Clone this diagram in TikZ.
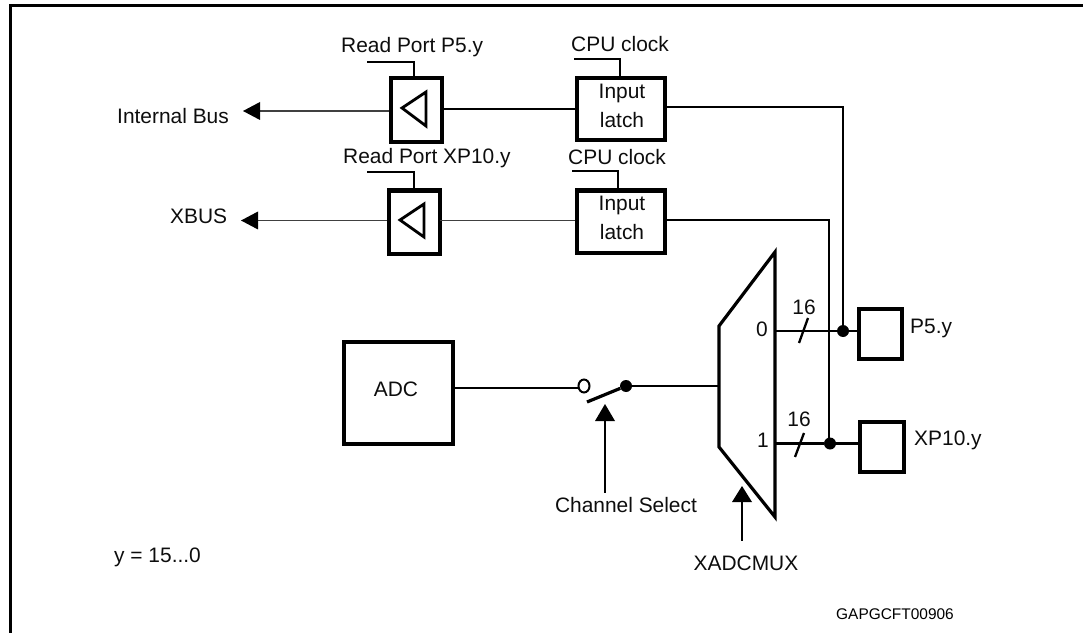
\documentclass[tikz,border=0pt]{standalone}
\usepackage{fontspec}
\usetikzlibrary{shapes.geometric}
\setmainfont{Liberation Sans}
\begin{document}
\begin{tikzpicture}[x=1bp,y=-1bp,
  lbl/.style={inner sep=0pt,font=\fontsize{21}{24}\selectfont,text=black!95},
  small/.style={inner sep=0pt,font=\fontsize{15.5}{18}\selectfont},
  thickbox/.style={draw,line width=4.2bp,inner sep=0pt,fill=white},
  wire/.style={line width=2.3bp},
  thin wire/.style={line width=1.6bp,draw=black!75},
  tipfill/.style={fill=black,draw=none},
  dotn/.style={circle,fill=black,inner sep=0pt,minimum size=12bp}]
\useasboundingbox (0,0) rectangle (1084,633);
% clipped title and frame
\fill[black!80] (36,0) arc[start angle=180,end angle=360,x radius=5,y radius=1.5] -- cycle;
\fill[black!80] (282,0) arc[start angle=180,end angle=360,x radius=5,y radius=1.5] -- cycle;
\draw[line width=2.4bp] (10.5,633) -- (10.5,5.5) -- (1083,5.5);
% boxes
\node[thickbox,minimum width=51bp,minimum height=64bp,anchor=north west] (buf1) at (389,76) {};
\node[thickbox,minimum width=51bp,minimum height=63bp,anchor=north west] (buf2) at (387,188.5) {};
\node[thickbox,minimum width=88bp,minimum height=62bp,anchor=north west] (lat1) at (574.5,76) {};
\node[thickbox,minimum width=88bp,minimum height=62bp,anchor=north west] (lat2) at (574.5,188.5) {};
\node[thickbox,minimum width=109bp,minimum height=102bp,anchor=north west] (adc) at (341.5,339.5) {};
\node[thickbox,minimum width=43bp,minimum height=50bp,anchor=north west] (p5) at (856.5,306.5) {};
\node[thickbox,minimum width=44bp,minimum height=50bp,anchor=north west] (xp) at (857.5,419.5) {};
% triangles
\draw[line width=2.8bp,line join=miter] (402,108) -- (426,92) -- (426,126) -- cycle;
\draw[line width=2.8bp,line join=miter] (400,220) -- (424,204) -- (424,237) -- cycle;
% mux
\draw[line width=3.2bp,fill=white,line join=miter] (719,326) -- (775,252) -- (775,517) -- (719,447) -- cycle;
% named helpers
\coordinate (bus1) at (243,111);
\coordinate (bus2) at (241,220.5);
\coordinate (rp1) at (367,62);
\coordinate (rp2) at (367,172);
\coordinate (ck1) at (574,59);
\coordinate (ck2) at (572,171);
\node[dotn] (j1) at (843,331) {};
\node[dotn] (j2) at (830,443.5) {};
\node[draw,line width=2bp,fill=white,ellipse,inner sep=0pt,minimum width=11bp,minimum height=13bp] at (584,386) (sw0) {};
\node[dotn] (sw1) at (626,386) {};
% wires
\draw[thin wire] (buf1.west |- bus1) -- (260,111);
\fill[tipfill] (243,111) -- (260,102) -- (260,120) -- cycle;
\draw[thin wire] (buf2.west |- bus2) -- (258,220.5);
\fill[tipfill] (241,220.5) -- (258,211.5) -- (258,229.5) -- cycle;
\draw[wire] (440,109) -- (575,109);
\draw[thin wire] (440,220.5) -- (575,220.5);
\draw[wire] (rp1) -- (414,62) -- (414,77);
\draw[wire] (rp2) -- (414,172) -- (414,189);
\draw[wire] (ck1) -- (620,59) -- (620,77);
\draw[wire] (ck2) -- (618,171) -- (618,189);
\draw[wire] (lat1.east |- 0,107) -- (843,107) -- (j1.center);
\draw[wire] (lat2.east |- 0,220) -- (829,220) -- (829,443.5);
\draw[wire] (775,331) -- (j1) -- (p5.west |- j1);
\draw[wire] (775,443.5) -- (j2) -- (xp.west |- j2);
\draw[wire] (808,318) -- (799,343);
\draw[wire] (804,433) -- (795,457);
\draw[wire] (adc.east |- 0,388) -- (579,388);
\draw[wire] (sw1) -- (719,386);
\draw[line width=3.2bp] (587,402) -- (sw1);
\draw[wire] (605,421) -- (605,493);
\fill[tipfill] (605,404) -- (595,421) -- (615,421) -- cycle;
\draw[wire] (742,502) -- (742,541);
\fill[tipfill] (742,486) -- (732,502) -- (752,502) -- cycle;
% text
\node[lbl,anchor=west] at (341,47) {Read Port P5.y};
\node[lbl,anchor=west] at (343,158) {Read Port XP10.y};
\node[lbl,anchor=west] at (571,44) {CPU clock};
\node[lbl,anchor=west] at (568,157) {CPU clock};
\node[lbl] at (622,93) {Input};
\node[lbl] at (622,120) {latch};
\node[lbl] at (622,205) {Input};
\node[lbl] at (622,232) {latch};
\node[lbl,anchor=west] at (117,116) {Internal Bus};
\node[lbl,anchor=west] at (170,216) {XBUS};
\node[lbl] at (396,389) {ADC};
\node[lbl] at (804,307) {16};
\node[lbl] at (799,419) {16};
\node[lbl] at (762,329) {0};
\node[lbl] at (763,440) {1};
\node[lbl,anchor=west] at (910,328) {P5.y};
\node[lbl,anchor=west] at (914,440) {XP10.y};
\node[lbl] at (626,505) {Channel Select};
\node[lbl] at (746,563) {XADCMUX};
\node[lbl,anchor=west] at (114,557) {y = 15...0};
\node[small] at (895,614) {GAPGCFT00906};
\end{tikzpicture}
\end{document}
